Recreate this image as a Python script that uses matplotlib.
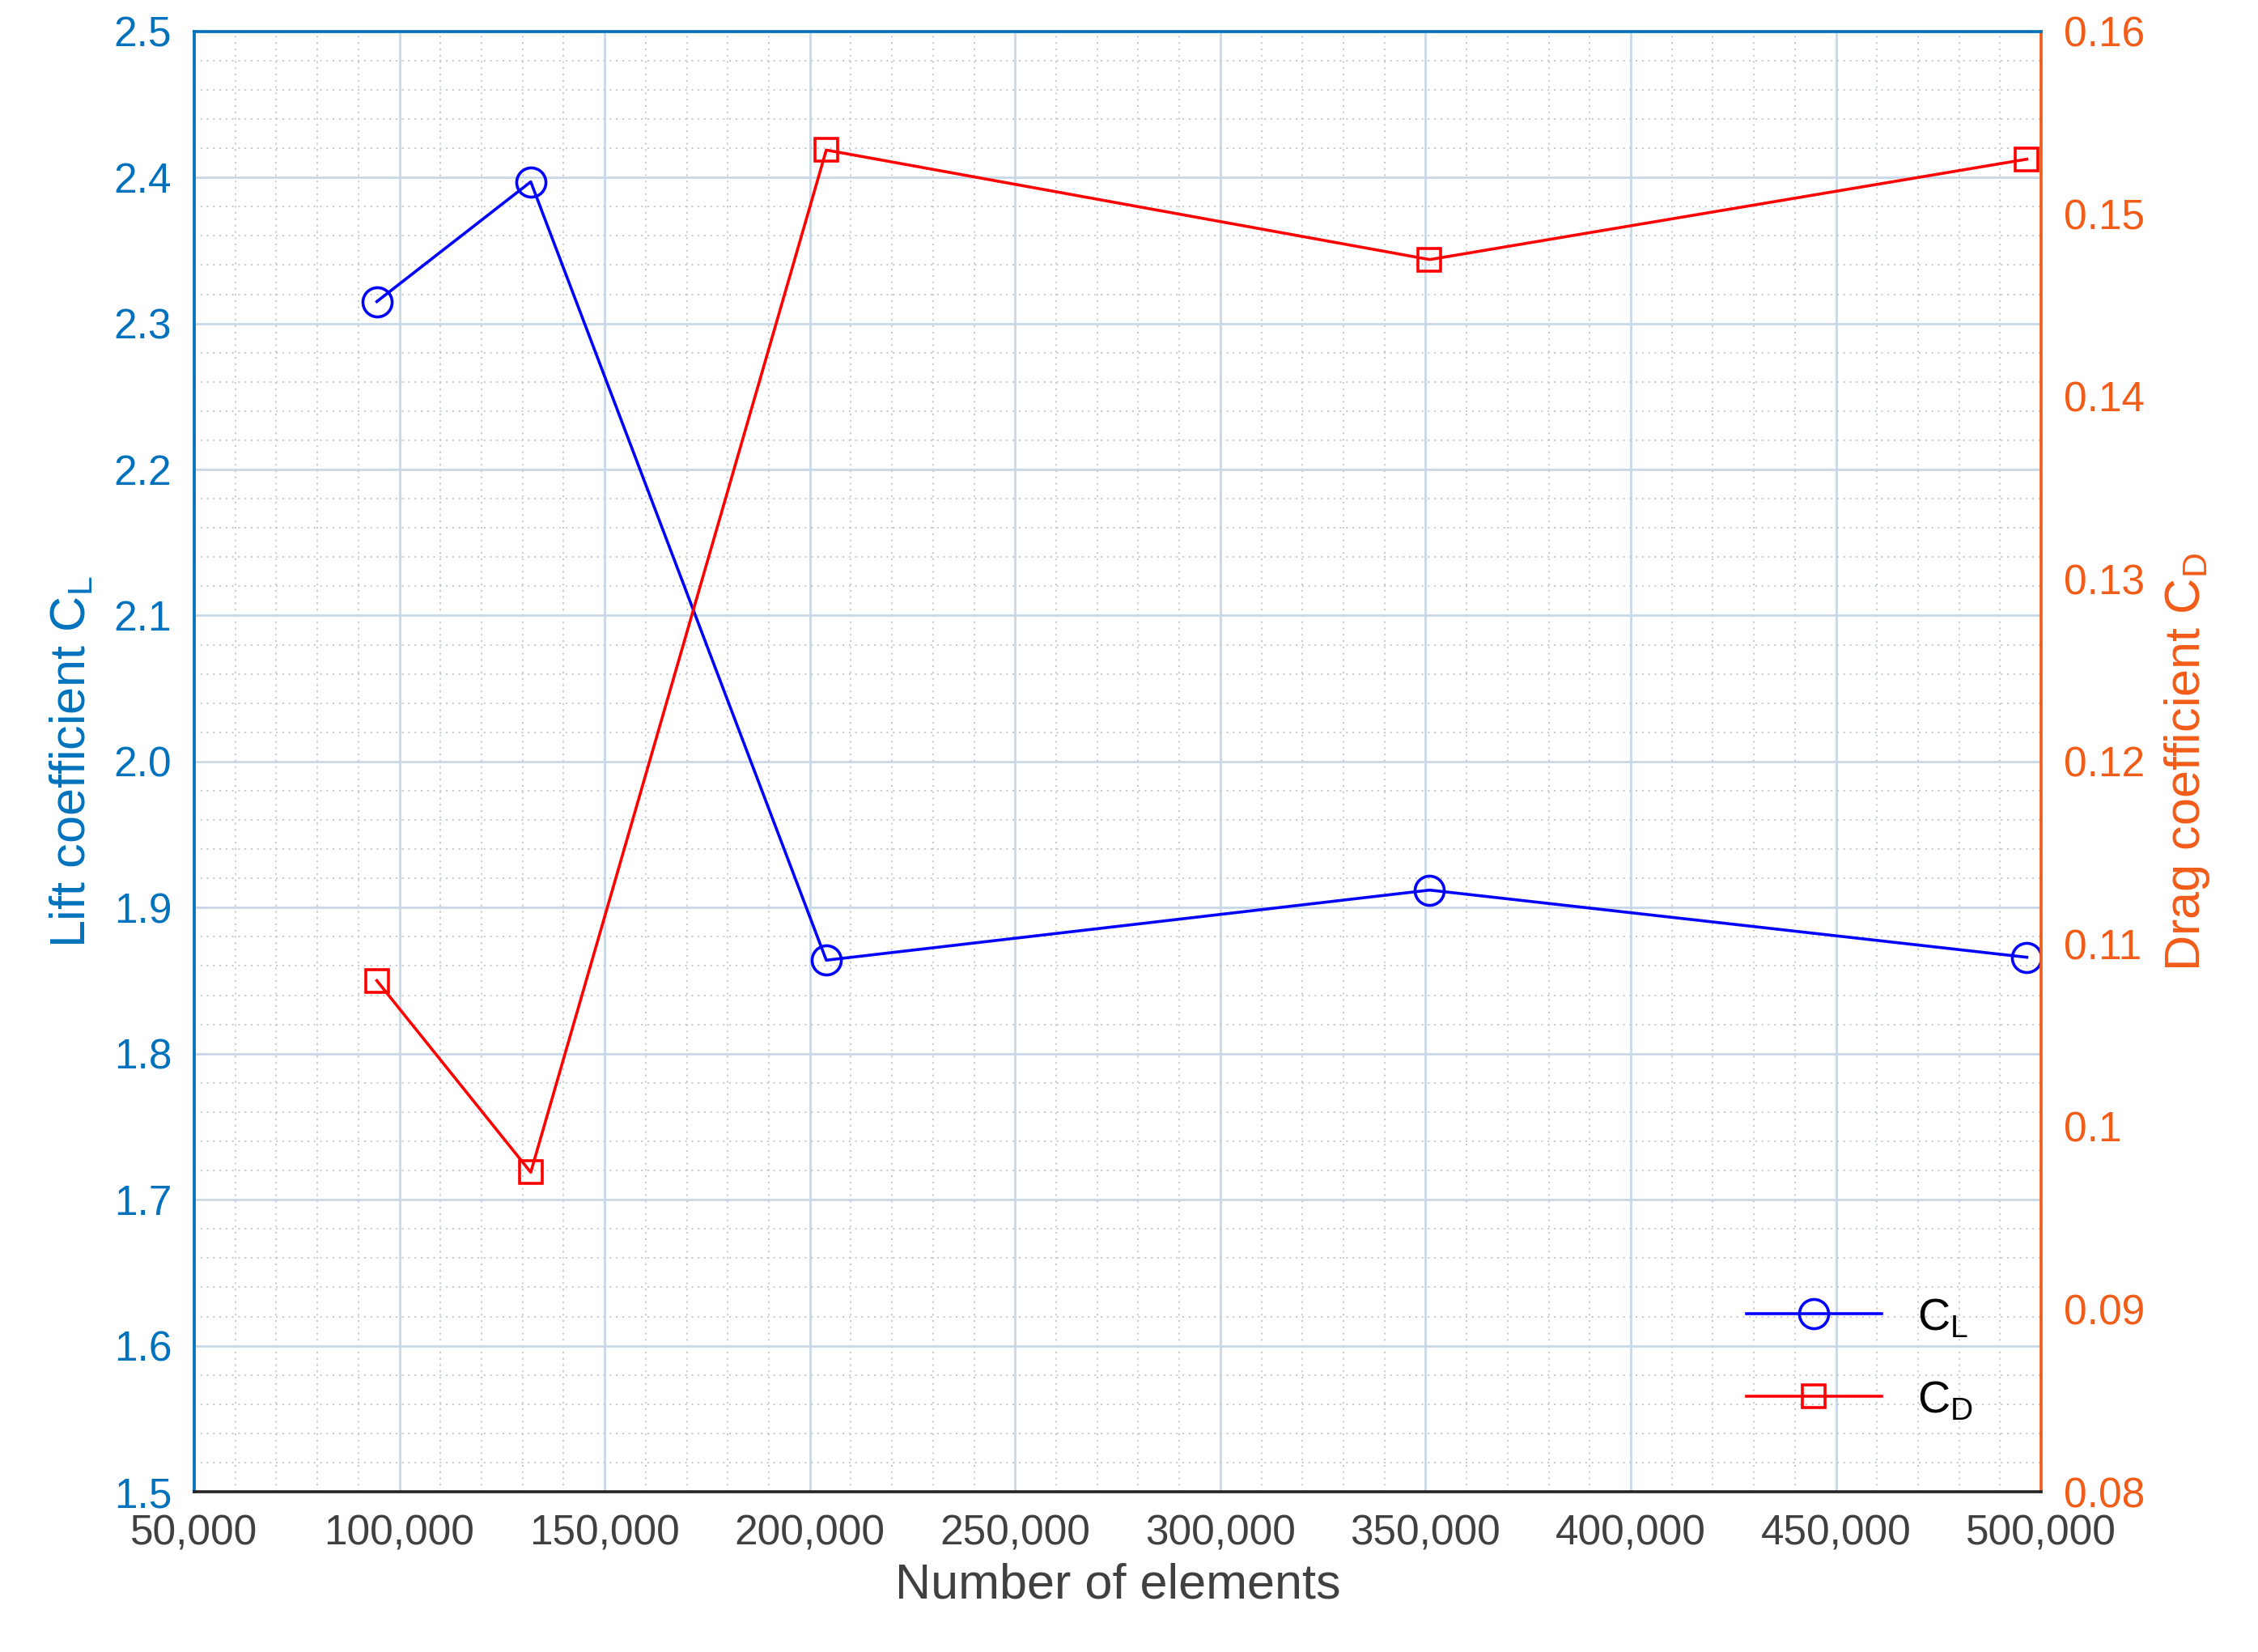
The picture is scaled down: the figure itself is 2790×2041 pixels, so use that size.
import matplotlib
matplotlib.use("Agg")
import matplotlib.pyplot as plt
from matplotlib.ticker import MultipleLocator, FuncFormatter

elements = [94500, 132000, 204000, 351000, 496500]
cl = [2.315, 2.397, 1.864, 1.912, 1.866]
cd = [0.108, 0.0975, 0.1535, 0.1475, 0.153]

plt.rcParams['font.family'] = ['Liberation Sans', 'DejaVu Sans']
blue_ax = '#0072BD'
orange_ax = '#F25C19'

fig = plt.figure(figsize=(13.95, 10.205), dpi=200)
ax = fig.add_axes([0.086, 0.097, 0.818, 0.884])
ax2 = ax.twinx()

l1, = ax.plot(elements, cl, color='blue', marker='o', ms=13, mfc='none', mew=1.3, lw=1.3, label='C$_\\mathregular{L}$')
l2, = ax2.plot(elements, cd, color='red', marker='s', ms=10, mfc='none', mew=1.3, lw=1.3, label='C$_\\mathregular{D}$')

ax.set_xlim(50000, 500000)
ax.set_ylim(1.5, 2.5)
ax2.set_ylim(0.08, 0.16)
ax.xaxis.set_major_locator(MultipleLocator(50000))
ax.xaxis.set_minor_locator(MultipleLocator(10000))
ax.yaxis.set_major_locator(MultipleLocator(0.1))
ax.yaxis.set_minor_locator(MultipleLocator(0.02))
ax2.yaxis.set_major_locator(MultipleLocator(0.01))
ax.xaxis.set_major_formatter(FuncFormatter(lambda v, p: f"{int(v):,}"))
ax.yaxis.set_major_formatter(FuncFormatter(lambda v, p: f"{v:.1f}"))
ax2.yaxis.set_major_formatter(FuncFormatter(lambda v, p: "0.1" if abs(v-0.1) < 1e-9 else f"{v:.2f}"))

ax.grid(which='major', color='#c8d8e6', lw=1.0)
ax.grid(which='minor', color='#c0c8d0', lw=0.7, ls=(0, (1, 3)))
ax.set_axisbelow(True)

ax.tick_params(axis='x', labelsize=18.5, direction='in', length=0, pad=10)
ax.tick_params(axis='y', colors=blue_ax, labelsize=18.5, direction='in', length=0, pad=10)
ax.tick_params(which='minor', length=0)
ax2.tick_params(axis='y', colors=orange_ax, labelsize=18.5, direction='in', length=0, pad=10)
for lab in ax.get_xticklabels():
    lab.set_color('#404040')

ax2.spines['left'].set_color(blue_ax)
ax2.spines['right'].set_color(orange_ax)
ax2.spines['top'].set_color(blue_ax)
ax2.spines['bottom'].set_color('#262626')
for s in ['left', 'right', 'top', 'bottom']:
    ax2.spines[s].set_linewidth(1.3)

ax.set_xlabel('Number of elements', fontsize=22, color='#404040', labelpad=4)
ax.set_ylabel('Lift coefficient C$_\\mathregular{L}$', fontsize=22, color=blue_ax, labelpad=8)
ax2.set_ylabel('Drag coefficient C$_\\mathregular{D}$', fontsize=22, color=orange_ax, labelpad=8)

leg = ax2.legend(handles=[l1, l2], loc='lower right', bbox_to_anchor=(0.985, 0.02),
                 frameon=False, fontsize=20, handlelength=3.0, labelspacing=0.9)
fig.savefig('out.png', dpi=200)
